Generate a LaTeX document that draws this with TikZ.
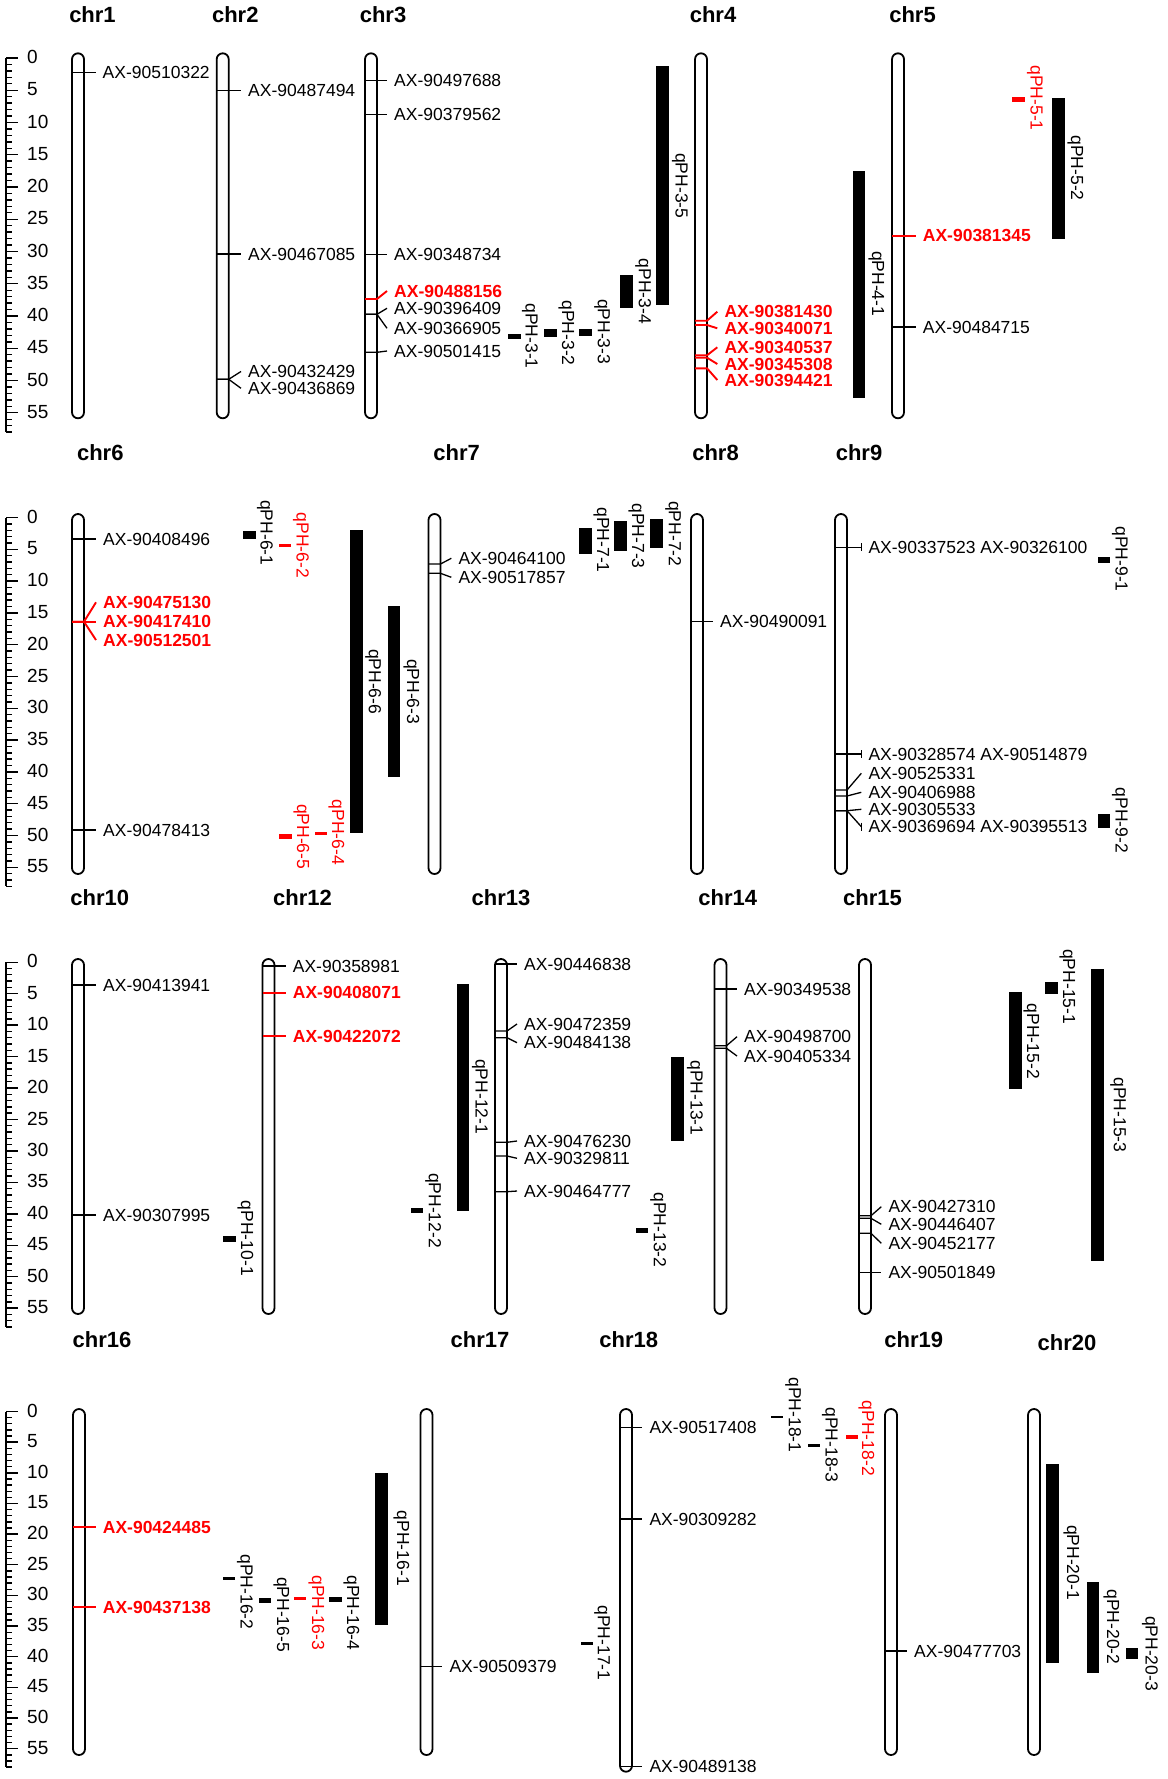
\documentclass[tikz,border=0pt]{standalone}
\usepackage{fontspec}
\setmainfont{Liberation Sans}
\newcommand\chrom[4]{\draw[chr] ({#2-6},#3) rectangle ({#2+6},#4); \coordinate (#1) at (#2,#3);}
\newcommand\mk[7]{%
  \node[lab#5] (#6) at (#3,#4) {#7};
  \draw[mk#5] ({#1-6},#2) -- ({#1+6},#2) -- ([xshift=-7pt]#6.west);}
\newcommand\mkc[7]{%
  \mk{#1}{#2}{#3}{#4}{#5}{#6}{#7}%
  \draw[mk#5] ([xshift=-7pt,yshift=4pt]#6.west) -- ([xshift=-7pt,yshift=-4pt]#6.west);}
\newcommand\qtl[9]{%
  \fill[#7] (#1,#3) rectangle (#2,#4);
  \node[qlab, text=#7] (#8) at (#5,#6) {#9};}
\newcommand\ruler[3]{%
  \draw[rul] (6,#2) -- (6,{#2+58*#3});
  \foreach \i in {0,...,58}{\draw[rul] (6,{#2+\i*#3}) -- (12,{#2+\i*#3});}
  \foreach \i in {0,5,...,55}{\draw[rul] (6,{#2+\i*#3}) -- (18,{#2+\i*#3});
    \node[rlab] (#1-\i) at (27,{#2+\i*#3-1}) {\i};}}
\begin{document}
\begin{tikzpicture}[x=1pt,y=-1pt,
  chr/.style={draw=black, line width=1.8pt, fill=white, rounded corners=6pt},
  mkb/.style={draw=black, line width=1.3pt},
  mkr/.style={draw=red, line width=1.9pt},
  labb/.style={anchor=west, inner sep=0pt, font=\fontsize{17.5}{20}\selectfont},
  labr/.style={anchor=west, inner sep=0pt, text=red, font=\bfseries\fontsize{17.5}{20}\selectfont},
  qlab/.style={rotate=-90, anchor=south, inner sep=0pt, font=\fontsize{17.5}{20}\selectfont},
  ttl/.style={inner sep=0pt, font=\bfseries\fontsize{22}{26}\selectfont},
  rul/.style={draw=black, line width=1.4pt},
  rlab/.style={anchor=west, inner sep=0pt, font=\fontsize{19}{22}\selectfont},
]
\fill[white] (0,0) rectangle (1167,1779);
\useasboundingbox (0,0) rectangle (1167,1779);

% ---------- rulers
\ruler{ra}{58}{6.45}
\ruler{rb}{517.5}{6.36}
\ruler{rc}{962.2}{6.29}
\ruler{rd}{1411.5}{6.13}

% ---------- titles
\node[ttl] (t1) at (92.5,15) {chr1};
\node[ttl] (t2) at (235.3,15) {chr2};
\node[ttl] (t3) at (383,15) {chr3};
\node[ttl] (t4) at (713,15) {chr4};
\node[ttl] (t5) at (912.5,15) {chr5};
\node[ttl] (t6) at (100.3,453) {chr6};
\node[ttl] (t7) at (456.7,453) {chr7};
\node[ttl] (t8) at (715.5,453) {chr8};
\node[ttl] (t9) at (859,453) {chr9};
\node[ttl] (t10) at (99.7,897.7) {chr10};
\node[ttl] (t12) at (302.5,897.7) {chr12};
\node[ttl] (t13) at (501,897.7) {chr13};
\node[ttl] (t14) at (727.8,897.7) {chr14};
\node[ttl] (t15) at (872.5,897.7) {chr15};
\node[ttl] (t16) at (102,1339.3) {chr16};
\node[ttl] (t17) at (480,1339.3) {chr17};
\node[ttl] (t18) at (628.8,1339.3) {chr18};
\node[ttl] (t19) at (913.8,1339.3) {chr19};
\node[ttl] (t20) at (1067,1342.7) {chr20};

% ---------- chromosomes
\chrom{c1}{78}{53.3}{418.3}
\chrom{c2}{222.7}{53.3}{418.3}
\chrom{c3}{371}{53.3}{418.3}
\chrom{c4}{701}{53.3}{418.3}
\chrom{c5}{898}{53.3}{418.3}
\chrom{c6}{78}{514}{874}
\chrom{c7}{434.5}{514}{874}
\chrom{c8}{697}{514}{874}
\chrom{c9}{841}{514}{874}
\chrom{c10}{78}{959}{1314}
\chrom{c12}{268.5}{959}{1314}
\chrom{c13}{501}{959}{1314}
\chrom{c14}{720.5}{959}{1314}
\chrom{c15}{865}{959}{1314}
\chrom{c16}{79}{1409}{1755}
\chrom{c17}{426.5}{1409}{1755}
\chrom{c18}{626}{1409}{1771.7}
\chrom{c19}{891}{1409}{1755}
\chrom{c20}{1034}{1409}{1755}

% ---------- markers panel 1
\mk{78}{72.7}{102.5}{72.7}{b}{m1}{AX-90510322}
\mk{222.7}{90.7}{248}{90.7}{b}{m2a}{AX-90487494}
\mk{222.7}{254}{248}{254}{b}{m2b}{AX-90467085}
\mk{222.7}{379.3}{248}{371.5}{b}{m2c}{AX-90432429}
\mk{222.7}{379.3}{248}{388.3}{b}{m2d}{AX-90436869}
\mk{371}{80.7}{394}{80.7}{b}{m3a}{AX-90497688}
\mk{371}{114.7}{394}{114.7}{b}{m3b}{AX-90379562}
\mk{371}{254.3}{394}{254.3}{b}{m3c}{AX-90348734}
\mk{371}{299}{394}{291}{r}{m3d}{AX-90488156}
\mk{371}{314.3}{394}{308.3}{b}{m3e}{AX-90396409}
\mk{371}{314.3}{394}{328.3}{b}{m3f}{AX-90366905}
\mk{371}{352.3}{394}{351}{b}{m3g}{AX-90501415}
\mk{701}{320.7}{724.3}{311.7}{r}{m4a}{AX-90381430}
\mk{701}{325}{724.3}{328.3}{r}{m4b}{AX-90340071}
\mk{701}{355.3}{724.3}{347.3}{r}{m4c}{AX-90340537}
\mk{701}{357.7}{724.3}{364}{r}{m4d}{AX-90345308}
\mk{701}{368.3}{724.3}{380}{r}{m4e}{AX-90394421}
\mk{898}{235.7}{922.7}{235.7}{r}{m5a}{AX-90381345}
\mk{898}{327}{922.7}{327}{b}{m5b}{AX-90484715}

% ---------- markers panel 2
\mk{78}{539}{103}{539}{b}{m6a}{AX-90408496}
\mk{78}{621.7}{103}{602.3}{r}{m6b}{AX-90475130}
\mk{78}{621.7}{103}{621.7}{r}{m6c}{AX-90417410}
\mk{78}{621.7}{103}{640}{r}{m6d}{AX-90512501}
\mk{78}{830}{103}{830}{b}{m6e}{AX-90478413}
\mk{434.5}{564}{458.3}{558.3}{b}{m7a}{AX-90464100}
\mk{434.5}{573.3}{458.3}{577.3}{b}{m7b}{AX-90517857}
\mk{697}{621.7}{720}{621.7}{b}{m8a}{AX-90490091}
\mkc{841}{547.3}{868.3}{547.3}{b}{m9a}{AX-90337523 AX-90326100}
\mkc{841}{754}{868.3}{754}{b}{m9b}{AX-90328574 AX-90514879}
\mk{841}{790}{868.3}{773.3}{b}{m9c}{AX-90525331}
\mk{841}{796}{868.3}{792.3}{b}{m9d}{AX-90406988}
\mk{841}{810.7}{868.3}{809.3}{b}{m9e}{AX-90305533}
\mkc{841}{810.7}{868.3}{826.7}{b}{m9f}{AX-90369694 AX-90395513}

% ---------- markers panel 3
\mk{78}{985}{103}{985}{b}{m10a}{AX-90413941}
\mk{78}{1215}{103}{1215}{b}{m10b}{AX-90307995}
\mk{268.5}{966}{292.7}{966}{b}{m12a}{AX-90358981}
\mk{268.5}{992.7}{292.7}{992.7}{r}{m12b}{AX-90408071}
\mk{268.5}{1036}{292.7}{1036}{r}{m12c}{AX-90422072}
\mk{501}{964}{524}{964}{b}{m13a}{AX-90446838}
\mk{501}{1031}{524}{1024}{b}{m13b}{AX-90472359}
\mk{501}{1037.7}{524}{1042.7}{b}{m13c}{AX-90484138}
\mk{501}{1142.3}{524}{1141}{b}{m13d}{AX-90476230}
\mk{501}{1156}{524}{1158.3}{b}{m13e}{AX-90329811}
\mk{501}{1191.7}{524}{1191}{b}{m13f}{AX-90464777}
\mk{720.5}{989}{744}{989}{b}{m14a}{AX-90349538}
\mk{720.5}{1045.7}{744}{1036.7}{b}{m14b}{AX-90498700}
\mk{720.5}{1048.3}{744}{1056}{b}{m14c}{AX-90405334}
\mk{865}{1215.7}{888.3}{1206.7}{b}{m15a}{AX-90427310}
\mk{865}{1218.3}{888.3}{1224.3}{b}{m15b}{AX-90446407}
\mk{865}{1233.3}{888.3}{1243.3}{b}{m15c}{AX-90452177}
\mk{865}{1272.7}{888.3}{1272.7}{b}{m15d}{AX-90501849}

% ---------- markers panel 4
\mk{79}{1527.3}{102.7}{1527.3}{r}{m16a}{AX-90424485}
\mk{79}{1607.3}{102.7}{1607.3}{r}{m16b}{AX-90437138}
\mk{426.5}{1666.7}{449.3}{1666.7}{b}{m17a}{AX-90509379}
\mk{626}{1427.7}{649.3}{1427.7}{b}{m18a}{AX-90517408}
\mk{626}{1519}{649.3}{1519}{b}{m18b}{AX-90309282}
\mk{626}{1766.7}{649.3}{1766.7}{b}{m18c}{AX-90489138}
\mk{891}{1651}{914}{1651}{b}{m19a}{AX-90477703}

% ---------- QTLs panel 1
\qtl{508.3}{521}{334}{339}{521.7}{336}{black}{q31}{qPH-3-1}
\qtl{544}{556.7}{329.3}{336.7}{558.3}{333}{black}{q32}{qPH-3-2}
\qtl{579.3}{592}{329}{335.7}{594}{331.7}{black}{q33}{qPH-3-3}
\qtl{620}{633.3}{275}{308.3}{635}{291.3}{black}{q34}{qPH-3-4}
\qtl{656}{669}{66}{305}{671.7}{185.8}{black}{q35}{qPH-3-5}
\qtl{852.7}{865.3}{171}{397.7}{868.3}{283.7}{black}{q41}{qPH-4-1}
\qtl{1012.3}{1025}{96.7}{101.7}{1026.7}{98}{red}{q51}{qPH-5-1}
\qtl{1052.3}{1065}{97.7}{238.7}{1067.3}{168}{black}{q52}{qPH-5-2}

% ---------- QTLs panel 2
\qtl{242.7}{256}{530.7}{539}{256.7}{532.8}{black}{q61}{qPH-6-1}
\qtl{279.3}{290.7}{544.3}{547.3}{292.7}{545.3}{red}{q62}{qPH-6-2}
\qtl{350}{362.7}{530}{833.3}{365}{681.7}{black}{q66}{qPH-6-6}
\qtl{387.7}{400}{606}{776.7}{403.3}{691.7}{black}{q63}{qPH-6-3}
\qtl{315}{326.7}{831.7}{835}{328.3}{832.5}{red}{q64}{qPH-6-4}
\qtl{279.3}{291.7}{834.3}{839.3}{293.3}{836.7}{red}{q65}{qPH-6-5}
\qtl{579}{591.7}{528.3}{554.3}{593.3}{540}{black}{q71}{qPH-7-1}
\qtl{614.3}{627.3}{520.7}{551}{628.3}{536}{black}{q73}{qPH-7-3}
\qtl{650}{663.3}{519.3}{548.3}{665}{533.8}{black}{q72}{qPH-7-2}
\qtl{1097.7}{1110}{556.7}{563.3}{1111.7}{559}{black}{q91}{qPH-9-1}
\qtl{1097.7}{1110}{814}{827.7}{1111.7}{820.5}{black}{q92}{qPH-9-2}

% ---------- QTLs panel 3
\qtl{223.3}{236}{1236}{1241.7}{237.3}{1238.3}{black}{q101}{qPH-10-1}
\qtl{456.7}{469.3}{984}{1211}{471.7}{1096.7}{black}{q121}{qPH-12-1}
\qtl{410.7}{423.3}{1207.7}{1213.3}{425}{1210.5}{black}{q122}{qPH-12-2}
\qtl{671}{684}{1056.7}{1141}{686.7}{1098}{black}{q131}{qPH-13-1}
\qtl{635.7}{648.3}{1227.7}{1232.7}{650}{1230}{black}{q132}{qPH-13-2}
\qtl{1045}{1057.7}{981.7}{994}{1059.3}{986.7}{black}{q151}{qPH-15-1}
\qtl{1009.3}{1022.3}{992.3}{1089}{1023.3}{1041.3}{black}{q152}{qPH-15-2}
\qtl{1091}{1104}{969}{1261}{1110}{1115}{black}{q153}{qPH-15-3}

% ---------- QTLs panel 4
\qtl{222.7}{235}{1576.7}{1579.5}{236.7}{1592}{black}{q162}{qPH-16-2}
\qtl{259.3}{271}{1598.3}{1603.3}{273.3}{1614.5}{black}{q165}{qPH-16-5}
\qtl{294}{306}{1596.7}{1599.5}{308.3}{1612.8}{red}{q163}{qPH-16-3}
\qtl{329.3}{341.7}{1596.7}{1601.7}{343.3}{1613}{black}{q164}{qPH-16-4}
\qtl{375}{388.3}{1472.7}{1625}{393.3}{1548.3}{black}{q161}{qPH-16-1}
\qtl{580.7}{593.3}{1641.7}{1645}{594}{1643}{black}{q171}{qPH-17-1}
\qtl{771}{782.7}{1415.7}{1418.3}{785}{1415}{black}{q181}{qPH-18-1}
\qtl{808.3}{820}{1444}{1447.3}{821.7}{1445}{black}{q183}{qPH-18-3}
\qtl{845.7}{858.3}{1435}{1439.3}{858.3}{1438.3}{red}{q182}{qPH-18-2}
\qtl{1046}{1059.3}{1464.3}{1662.7}{1063.3}{1562.5}{black}{q201}{qPH-20-1}
\qtl{1086.7}{1099.3}{1582.3}{1672.7}{1103.3}{1627}{black}{q202}{qPH-20-2}
\qtl{1125.7}{1138.3}{1647.7}{1659.3}{1141.7}{1653.5}{black}{q203}{qPH-20-3}
\end{tikzpicture}
\end{document}
